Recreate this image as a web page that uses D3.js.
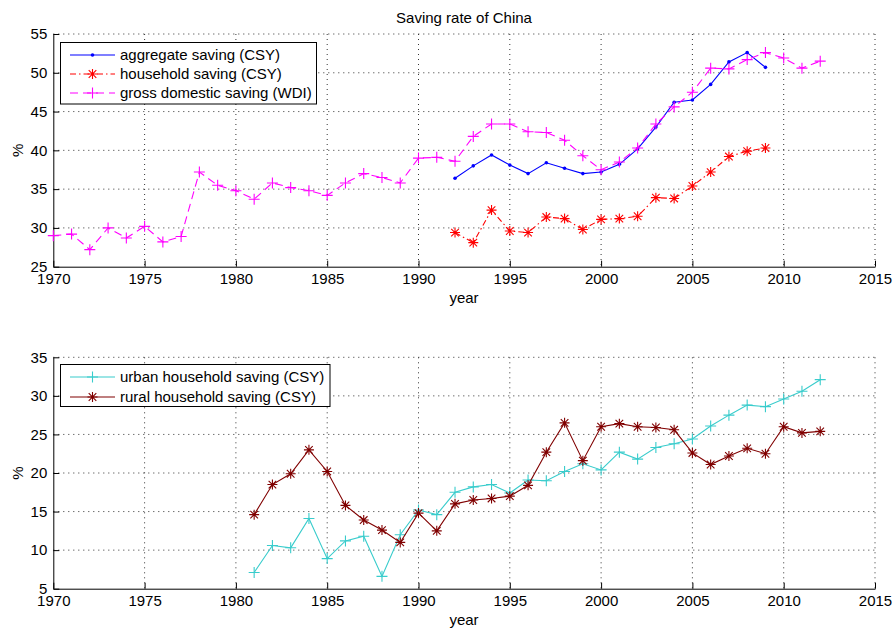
<!DOCTYPE html>
<html>
<head>
<meta charset="utf-8">
<script src="https://cdn.jsdelivr.net/npm/d3@7"></script>
<style>
  body { margin: 0; background: #fff; }
  svg text { font-family: "Liberation Sans", Arial, sans-serif; font-size: 15px; fill: #000; }
</style>
</head>
<body>
<svg id="chart" width="894" height="632"></svg>
<script>
// Saving rate of China — two stacked panels, MATLAB-ish styling

// x ticks shared by both panels
const xTicks = [1970, 1975, 1980, 1985, 1990, 1995, 2000, 2005, 2010, 2015];
const topYTicks = [25, 30, 35, 40, 45, 50, 55];
const bottomYTicks = [5, 10, 15, 20, 25, 30, 35];

// top panel
const wdiYears = [1970, 1971, 1972, 1973, 1974, 1975, 1976, 1977, 1978, 1979,
    1980, 1981, 1982, 1983, 1984, 1985, 1986, 1987, 1988, 1989,
    1990, 1991, 1992, 1993, 1994, 1995, 1996, 1997, 1998, 1999,
    2000, 2001, 2002, 2003, 2004, 2005, 2006, 2007, 2008, 2009,
    2010, 2011, 2012];
const grossDomesticSaving = [29.0, 29.2, 27.2, 30.0, 28.7, 30.2, 28.2, 28.9, 37.2, 35.5,
    34.8, 33.7, 35.8, 35.2, 34.8, 34.2, 35.8, 37.0, 36.5, 35.8,
    39.0, 39.1, 38.6, 41.8, 43.4, 43.4, 42.4, 42.3, 41.3, 39.3,
    37.5, 38.5, 40.3, 43.4, 45.6, 47.5, 50.6, 50.5, 51.7, 52.6,
    51.9, 50.6, 51.5];

const csyYears = [1992, 1993, 1994, 1995, 1996, 1997, 1998, 1999, 2000,
    2001, 2002, 2003, 2004, 2005, 2006, 2007, 2008, 2009];
const aggregateSaving = [36.4, 38.0, 39.4, 38.1, 37.0, 38.4, 37.7, 37.0, 37.2,
    38.2, 40.2, 43.0, 46.2, 46.5, 48.5, 51.4, 52.6, 50.7];
const householdSaving = [29.4, 28.1, 32.3, 29.6, 29.4, 31.4, 31.2, 29.8, 31.1,
    31.2, 31.5, 33.9, 33.8, 35.4, 37.2, 39.2, 39.9, 40.3];

// bottom panel
const urbanRuralYears = [1981, 1982, 1983, 1984, 1985, 1986, 1987, 1988, 1989, 1990,
    1991, 1992, 1993, 1994, 1995, 1996, 1997, 1998, 1999, 2000,
    2001, 2002, 2003, 2004, 2005, 2006, 2007, 2008, 2009, 2010,
    2011, 2012];
const urbanSaving = [7.1, 10.6, 10.3, 14.1, 8.9, 11.2, 11.8, 6.6, 12.0, 15.2,
    14.6, 17.5, 18.2, 18.5, 17.4, 19.1, 19.0, 20.2, 21.2, 20.4,
    22.7, 21.8, 23.3, 23.8, 24.4, 26.1, 27.5, 28.8, 28.6, 29.6,
    30.6, 32.1];
const ruralSaving = [14.6, 18.5, 19.9, 23.0, 20.2, 15.8, 13.9, 12.6, 11.0, 14.8,
    12.5, 16.0, 16.5, 16.7, 17.0, 18.4, 22.7, 26.5, 21.6, 26.0,
    26.4, 26.0, 25.9, 25.6, 22.6, 21.1, 22.2, 23.2, 22.5, 26.0,
    25.2, 25.4];

const svg = d3.select('#chart');

const x = d3.scaleLinear().domain([1970, 2015]).range([53.3, 875]);

// marker shapes
const markerPath = {
    plus: 'M-5.5,0H5.5M0,-5.5V5.5',
    star: 'M-5,0H5M0,-5V5M-3.8,-3.8L3.8,3.8M-3.8,3.8L3.8,-3.8'
};

function drawPanel(p) {
    const y = d3.scaleLinear().domain(p.domain).range([p.bottom, p.top]);
    const g = svg.append('g');

    // dotted grid
    const grid = g.append('g')
        .attr('stroke', '#333')
        .attr('stroke-width', 1)
        .attr('stroke-dasharray', '1,4');
    grid.selectAll('.vg')
        .data(xTicks.slice(1))
        .join('line')
        .attr('x1', d => x(d)).attr('x2', d => x(d))
        .attr('y1', p.top).attr('y2', p.bottom);
    grid.selectAll('.hg')
        .data(p.yTicks.slice(1))
        .join('line')
        .attr('x1', x(1970)).attr('x2', x(2015))
        .attr('y1', d => y(d)).attr('y2', d => y(d));

    // axes (ticks point inward)
    const xAxis = g.append('g')
        .attr('transform', `translate(0,${p.bottom})`)
        .call(d3.axisBottom(x).tickValues(xTicks).tickFormat(d3.format('d'))
            .tickSize(-6).tickPadding(7).tickSizeOuter(0));
    const yAxis = g.append('g')
        .attr('transform', `translate(${x(1970)},0)`)
        .call(d3.axisLeft(y).tickValues(p.yTicks)
            .tickSize(-6).tickPadding(6).tickSizeOuter(0));
    [xAxis, yAxis].forEach(a => {
        a.attr('font-size', null).attr('font-family', null);
        a.selectAll('path, line').attr('stroke', '#000');
        a.selectAll('text').attr('fill', '#000');
    });

    // axis labels
    g.append('text')
        .attr('x', 464).attr('y', p.bottom + 36)
        .attr('text-anchor', 'middle')
        .text('year');
    g.append('text')
        .attr('transform', `translate(23,${(p.top + p.bottom) / 2}) rotate(-90)`)
        .attr('text-anchor', 'middle')
        .text('%');

    // series
    p.series.forEach(s => {
        const pts = s.years.map((yr, i) => [yr, s.values[i]]);
        g.append('path')
            .datum(pts)
            .attr('fill', 'none')
            .attr('stroke', s.color)
            .attr('stroke-width', 1.1)
            .attr('stroke-dasharray', s.dash || null)
            .attr('d', d3.line().x(d => x(d[0])).y(d => y(d[1])));

        const m = g.append('g').selectAll('g')
            .data(pts)
            .join('g')
            .attr('transform', d => `translate(${x(d[0])},${y(d[1])})`);
        if (s.marker === 'dot') {
            m.append('circle').attr('r', 1.8).attr('fill', s.color);
        } else {
            m.append('path')
                .attr('d', markerPath[s.marker])
                .attr('stroke', s.color)
                .attr('stroke-width', 1.1)
                .attr('fill', 'none');
        }
    });

    // legend
    const lg = g.append('g');
    lg.append('rect')
        .attr('x', 60.5).attr('y', p.legend.y)
        .attr('width', p.legend.w).attr('height', p.legend.h)
        .attr('fill', '#fff').attr('stroke', '#000').attr('stroke-width', 1);
    p.series.forEach((s, i) => {
        const ry = p.legend.y + 12.5 + i * p.legend.step;
        lg.append('line')
            .attr('x1', 70).attr('x2', 115)
            .attr('y1', ry).attr('y2', ry)
            .attr('stroke', s.color).attr('stroke-width', 1.1)
            .attr('stroke-dasharray', s.dash || null);
        if (s.marker === 'dot') {
            lg.append('circle').attr('cx', 92.5).attr('cy', ry).attr('r', 1.8).attr('fill', s.color);
        } else {
            lg.append('path')
                .attr('transform', `translate(92.5,${ry})`)
                .attr('d', markerPath[s.marker])
                .attr('stroke', s.color).attr('stroke-width', 1.1).attr('fill', 'none');
        }
        lg.append('text')
            .attr('x', 120).attr('y', ry).attr('dy', '0.35em')
            .text(s.name);
    });
}

svg.append('text')
    .attr('x', 464).attr('y', 23)
    .attr('text-anchor', 'middle')
    .text('Saving rate of China');

drawPanel({
    top: 34, bottom: 266.7, domain: [25, 55], yTicks: topYTicks,
    legend: { y: 42.5, w: 256, h: 61.5, step: 19 },
    series: [
        { name: 'aggregate saving (CSY)', years: csyYears, values: aggregateSaving,
          color: '#0000ff', marker: 'dot' },
        { name: 'household saving (CSY)', years: csyYears, values: householdSaving,
          color: '#ff0000', marker: 'star', dash: '6,3,1.5,3' },
        { name: 'gross domestic saving (WDI)', years: wdiYears, values: grossDomesticSaving,
          color: '#ff00ff', marker: 'plus', dash: '8,5' }
    ]
});

drawPanel({
    top: 357.3, bottom: 588.7, domain: [5, 35], yTicks: bottomYTicks,
    legend: { y: 364.5, w: 269.5, h: 42, step: 20 },
    series: [
        { name: 'urban household saving (CSY)', years: urbanRuralYears, values: urbanSaving,
          color: '#38cccc', marker: 'plus' },
        { name: 'rural household saving (CSY)', years: urbanRuralYears, values: ruralSaving,
          color: '#800000', marker: 'star' }
    ]
});
</script>
</body>
</html>
